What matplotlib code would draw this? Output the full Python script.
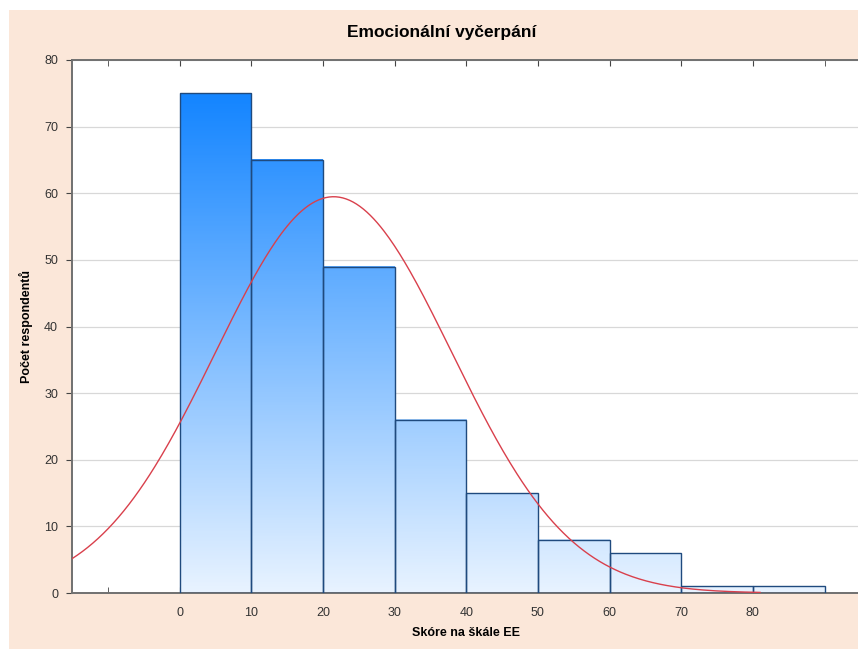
import numpy as np
import matplotlib
matplotlib.use("Agg")
import matplotlib.pyplot as plt
from matplotlib.colors import LinearSegmentedColormap
from matplotlib.patches import Rectangle

# histogram bins (score on EE scale) and counts
bin_edges = [0, 10, 20, 30, 40, 50, 60, 70, 80, 90]
counts = [75, 65, 49, 26, 15, 8, 6, 1, 1]

# fitted normal curve parameters
fit_mean = 21.5
fit_sd = 16.5
n_total = sum(counts)
bin_width = 10

x_ticks = [0, 10, 20, 30, 40, 50, 60, 70, 80]
y_ticks = [0, 10, 20, 30, 40, 50, 60, 70, 80]

plt.rcParams["font.family"] = ["Liberation Sans", "DejaVu Sans"]

fig = plt.figure(figsize=(8.58, 6.49), dpi=100, facecolor="white")
fig.patches.append(Rectangle((9 / 858, 0), 1, 639 / 649, transform=fig.transFigure,
                             facecolor="#fbe7d9", edgecolor="none", zorder=-10))
ax = fig.add_axes([72 / 858, 56 / 649, 787 / 858, 533 / 649])
ax.set_facecolor("white")

cmap = LinearSegmentedColormap.from_list("bars", ["#e8f3ff", "#1485ff"])

for i, c in enumerate(counts):
    x0, x1 = bin_edges[i], bin_edges[i + 1]
    grad = np.linspace(0, c, 200)[:, None]
    ax.imshow(grad, extent=(x0, x1, 0, c), origin="lower", cmap=cmap,
              vmin=0, vmax=75, aspect="auto", zorder=2)
    ax.add_patch(Rectangle((x0, 0), x1 - x0, c, facecolor="none",
                           edgecolor="#1f4a7e", linewidth=1.0, zorder=3))

xs = np.linspace(-15, 81, 400)
ys = n_total * bin_width / (fit_sd * np.sqrt(2 * np.pi)) * np.exp(-(xs - fit_mean) ** 2 / (2 * fit_sd ** 2))
ax.plot(xs, ys, color="#d9404c", linewidth=1.0, zorder=4)

ax.set_xlim(-15, 94.8)
ax.set_ylim(0, 80)
ax.set_yticks(y_ticks)
ax.set_xticks(x_ticks)
ax.set_xticks([-10, 90], minor=True)
ax.tick_params(axis="x", which="both", direction="in", length=4, color="#444444",
               labelsize=9, labelcolor="#333333", pad=10, top=True)
ax.tick_params(axis="y", direction="out", length=4, color="#444444",
               labelsize=9, labelcolor="#333333", pad=6, right=True)
ax.yaxis.grid(True, color="#d8d8d8", linewidth=0.9, zorder=0)
ax.set_axisbelow(True)
for side in ["left", "bottom", "top"]:
    ax.spines[side].set_color("#707070")
    ax.spines[side].set_linewidth(1.4)
ax.spines["right"].set_visible(False)

fig.text(442 / 858, 1 - 33 / 649, "Emocionální vyčerpání", fontsize=12.5,
         fontweight="bold", ha="center", va="center")
ax.set_xlabel("Skóre na škále EE", fontsize=9, fontweight="bold", labelpad=6)
ax.set_ylabel("Počet respondentů", fontsize=9, fontweight="bold", labelpad=8)

fig.savefig("out.png", dpi=100, facecolor=fig.get_facecolor())
